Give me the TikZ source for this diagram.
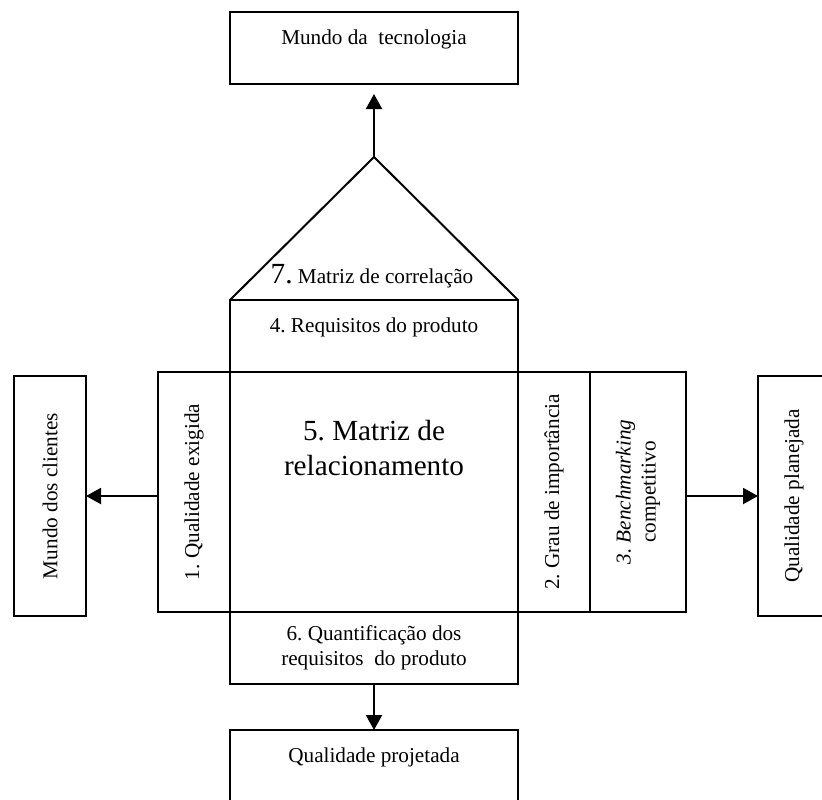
\documentclass[tikz,border=0pt]{standalone}
\usepackage{fontspec}
\setmainfont{Liberation Serif}
\usetikzlibrary{positioning,arrows.meta}
\newcommand{\bigsz}{\fontsize{14.6}{17.5}\selectfont}
\frenchspacing
\begin{document}
\begin{tikzpicture}[x=0.5pt,y=-0.5pt,
	font=\fontsize{10.6}{12.5}\selectfont,
	box/.style={draw,line width=1pt,outer sep=0pt,inner sep=0pt,align=center},
	toptext/.style={label={[anchor=north,inner sep=0pt,yshift=-8.8pt]north:{#1}}},
	arr/.style={-{Triangle[length=7.5pt,width=8pt]},line width=1pt}]
		\useasboundingbox (0,0) rectangle (822,799);

		\node (mat) [box,minimum width=144pt,minimum height=120pt,
			label={[anchor=north,inner sep=0pt,yshift=-24pt,align=center,font=\bigsz]north:{5. Matriz de\\relacionamento}}] at (374,492) {};
		\node (req) [box,minimum width=144pt,minimum height=36pt,above=0pt of mat,toptext={4. Requisitos do produto}] {};
		\node (quant) [box,minimum width=144pt,minimum height=36pt,below=0pt of mat] {6. Quantificação dos\\requisitos~ do produto};
		\node (qual) [box,minimum width=36pt,minimum height=120pt,left=0pt of mat] {\rotatebox{90}{1. Qualidade exigida}};
		\node (grau) [box,minimum width=36pt,minimum height=120pt,right=0pt of mat] {\rotatebox{90}{2. Grau de importância}};
		\node (bench) [box,minimum width=48pt,minimum height=120pt,right=0pt of grau] {\rotatebox{90}{\begin{tabular}{@{}c@{}}\textit{3. Benchmarking}\\competitivo\end{tabular}}};

		\coordinate (apex) at (374,157);
		\draw[line width=1pt] (req.north west) -- (apex) -- (req.north east);
		\node (corr) [anchor=base] at (372,283) {{\bigsz 7.} Matriz de correlação};

		\node (tec) [box,minimum width=144pt,minimum height=36pt,toptext={Mundo da~ tecnologia}] at (374,48) {};
		\node (clientes) [box,minimum width=36pt,minimum height=120pt] at (50,496) {\rotatebox{90}{Mundo dos clientes}};
		\node (plan) [box,minimum width=36pt,minimum height=120pt] at (794,496) {\rotatebox{90}{Qualidade planejada}};
		\node (proj) [box,minimum width=144pt,minimum height=36pt,toptext={Qualidade projetada}] at (374,766) {};

		\draw[arr,shorten >=5pt] (apex) -- (tec);
		\draw[arr] (clientes.east -| qual.west) -- (clientes);
		\draw[arr] (plan.west -| bench.east) -- (plan);
		\draw[arr] (quant) -- (proj);
	\end{tikzpicture}
\end{document}
